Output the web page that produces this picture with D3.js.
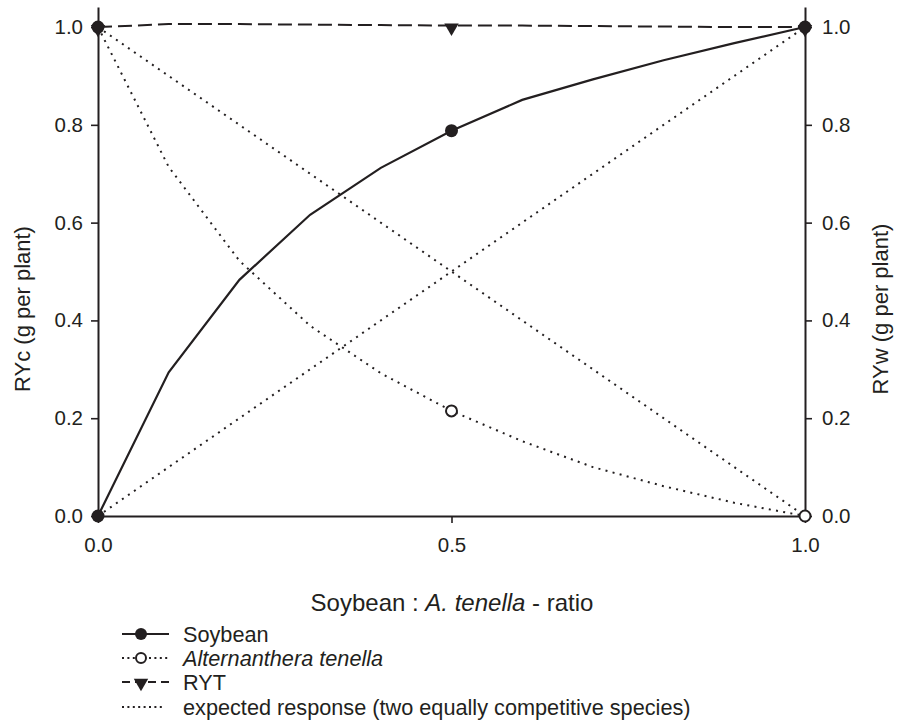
<!DOCTYPE html>
<html>
<head>
<meta charset="utf-8">
<script src="https://cdn.jsdelivr.net/npm/d3@7"></script>
<style>
  body { margin: 0; background: #fff; }
  svg text { font-family: "Liberation Sans", Arial, sans-serif; fill: #231f20; }
</style>
</head>
<body>
<svg id="chart" width="906" height="723"></svg>
<script>
// proportion of soybean in the mixture
const ratios = [0, 0.1, 0.2, 0.3, 0.4, 0.5, 0.6, 0.7, 0.8, 0.9, 1.0];
const soybean = [0, 0.294, 0.483, 0.616, 0.712, 0.788, 0.851, 0.893, 0.932, 0.967, 1.0];
const tenella = [1.0, 0.714, 0.522, 0.389, 0.292, 0.215, 0.153, 0.100, 0.061, 0.027, 0];
const ryt = [1.0, 1.006, 1.006, 1.005, 1.004, 1.003, 1.003, 1.002, 1.001, 1.0, 1.0];
const markerAt = [0, 0.5, 1.0];
const expectedUp = [[0, 0], [1, 1]];
const expectedDown = [[0, 1], [1, 0]];
const yTicks = [0, 0.2, 0.4, 0.6, 0.8, 1.0];
const xTicks = [0, 0.5, 1.0];
const legendItems = ["Soybean", "Alternanthera tenella", "RYT", "expected response (two equally competitive species)"];

const ink = "#231f20";
const svg = d3.select("#chart");

const x = d3.scaleLinear().domain([0, 1]).range([98, 805]);
const y = d3.scaleLinear().domain([0, 1.041]).range([516, 7]);

function styleAxis(g) {
    g.select(".domain").attr("stroke", ink).attr("stroke-width", 2);
    g.selectAll(".tick line").attr("stroke", ink).attr("stroke-width", 1.6);
    g.selectAll(".tick text").attr("font-size", 20.5).attr("fill", ink)
        .attr("font-family", "Liberation Sans, Arial, sans-serif");
}

svg.append("g").attr("transform", "translate(98,0)")
    .call(d3.axisLeft(y).tickValues(yTicks).tickFormat(d3.format(".1f")).tickSize(7).tickSizeOuter(0).tickPadding(8))
    .call(styleAxis);

svg.append("g").attr("transform", "translate(805,0)")
    .call(d3.axisRight(y).tickValues(yTicks).tickFormat(d3.format(".1f")).tickSize(7).tickSizeOuter(0).tickPadding(10))
    .call(styleAxis);

svg.append("g").attr("transform", "translate(0,516)")
    .call(d3.axisBottom(x).tickValues(xTicks).tickFormat(d3.format(".1f")).tickSize(7).tickSizeOuter(0).tickPadding(14))
    .call(styleAxis);

// axis titles
svg.append("text").attr("transform", "translate(30,309) rotate(-90)")
    .attr("text-anchor", "middle").attr("font-size", 22).text("RYc (g per plant)");
svg.append("text").attr("transform", "translate(888,309) rotate(-90)")
    .attr("text-anchor", "middle").attr("font-size", 22).text("RYw (g per plant)");

const xt = svg.append("text").attr("x", 452).attr("y", 611).attr("text-anchor", "middle").attr("font-size", 24);
xt.append("tspan").text("Soybean : ");
xt.append("tspan").attr("font-style", "italic").text("A. tenella");
xt.append("tspan").text(" - ratio");

const line = d3.line().x(d => x(d[0])).y(d => y(d[1]));
const dots = "2,5.3";

// expected response lines
[expectedUp, expectedDown].forEach(pts => {
    svg.append("path").attr("d", line(pts)).attr("fill", "none")
        .attr("stroke", ink).attr("stroke-width", 2).attr("stroke-dasharray", dots);
});

const series = [
    { vals: tenella, dash: dots, width: 2 },
    { vals: soybean, dash: null, width: 2.2 },
    { vals: ryt, dash: "14,6", width: 2 }
];
series.forEach(s => {
    svg.append("path").attr("d", line(ratios.map((r, i) => [r, s.vals[i]])))
        .attr("fill", "none").attr("stroke", ink).attr("stroke-width", s.width)
        .attr("stroke-dasharray", s.dash);
});

function valAt(arr, r) { return arr[ratios.indexOf(r)]; }

const tri = d3.symbol().type(d3.symbolTriangle).size(90);

// markers (the tenella point at 0 sits under the RYT triangle)
markerAt.forEach(r => {
    svg.append("circle").attr("cx", x(r)).attr("cy", y(valAt(tenella, r))).attr("r", 5.5)
        .attr("fill", r === 0 ? ink : "#fff").attr("stroke", ink).attr("stroke-width", 2);
});
markerAt.forEach(r => {
    svg.append("circle").attr("cx", x(r)).attr("cy", y(valAt(soybean, r))).attr("r", 6.5).attr("fill", ink);
});
markerAt.forEach(r => {
    svg.append("path").attr("d", tri)
        .attr("transform", `translate(${x(r)},${y(valAt(ryt, r)) + 2}) rotate(180)`).attr("fill", ink);
});

// legend
const lg = svg.append("g");
const rowY = [634, 658, 682, 707];
legendItems.forEach((name, i) => {
    const yy = rowY[i];
    let x0 = 122, x1 = 169;
    if (i === 3) x1 = 164;
    lg.append("line").attr("x1", x0).attr("x2", x1).attr("y1", yy).attr("y2", yy)
        .attr("stroke", ink)
        .attr("stroke-width", i === 0 ? 2.2 : 2)
        .attr("stroke-dasharray", i === 0 ? null : (i === 2 ? "8,5" : "2,3.4"));
    if (i === 0) lg.append("circle").attr("cx", 141).attr("cy", yy).attr("r", 6).attr("fill", ink);
    if (i === 1) lg.append("circle").attr("cx", 141).attr("cy", yy).attr("r", 5).attr("fill", "#fff")
        .attr("stroke", ink).attr("stroke-width", 2);
    if (i === 2) lg.append("path").attr("d", tri).attr("transform", `translate(141,${yy + 1}) rotate(180)`).attr("fill", ink);
    lg.append("text").attr("x", 183).attr("y", yy + 7.5).attr("font-size", 21.7)
        .attr("font-style", i === 1 ? "italic" : null).text(name);
});
</script>
</body>
</html>
